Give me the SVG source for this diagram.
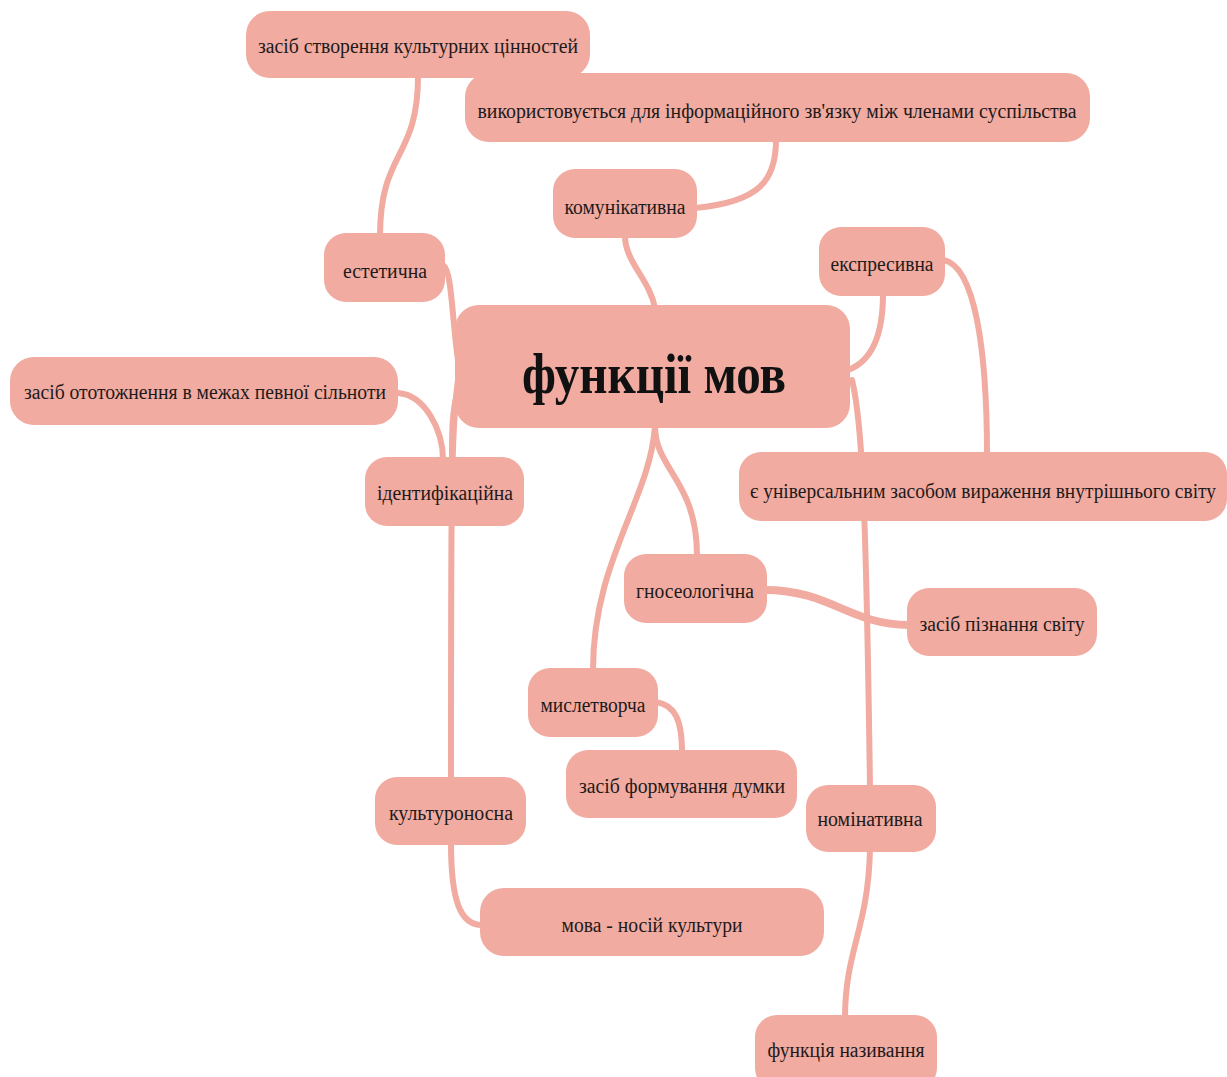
<svg xmlns="http://www.w3.org/2000/svg" width="1227" height="1077" viewBox="0 0 1227 1077">
<style>
.n{fill:#f1aba1}
.t{font-family:"Liberation Serif","Times New Roman",serif;font-size:20px;fill:#1e1a1a;text-anchor:middle}
.c{fill:none;stroke:#f1aba1;stroke-width:6;stroke-linecap:round}
</style>
<rect width="1227" height="1077" fill="#ffffff"/>
<g id="connectors">
<path class="c" d="M655,308 C650,280 625,262 625,236"/>
<path class="c" d="M695,208 C760,202 776,180 776,140"/>
<path class="c" d="M380,236 C380,150 418,160 418,76"/>
<path class="c" d="M458,360 C452,320 452,270 443,265"/>
<path class="c" d="M458,390 C452,410 452,430 452,460"/>
<path class="c" d="M458,380 C451,430 451,500 451,780"/>
<path class="c" d="M398,393 C425,395 443,430 443,460"/>
<path class="c" d="M848,370 C875,360 883,330 883,294"/>
<path class="c" d="M943,260 C975,265 987,350 987,455"/>
<path class="c" d="M852,380 C862,420 866,500 870,788"/>
<path class="c" d="M870,850 C868,930 845,950 845,1018"/>
<path class="c" d="M655,426 C655,470 697,480 697,556"/>
<path class="c" d="M655,426 C650,500 593,560 593,670"/>
<path class="c" d="M765,590 C830,590 850,625 909,625" style="stroke-width:8"/>
<path class="c" d="M656,702 C675,705 682,720 682,752"/>
<path class="c" d="M451,843 C451,900 460,925 482,925"/>
</g>
<g id="center">
<rect class="n" x="455" y="305" width="395" height="123" rx="24"/>
<text x="654" y="393" style="font-family:'Liberation Serif','Times New Roman',serif;font-weight:bold;font-size:58px;fill:#111;text-anchor:middle" textLength="264" lengthAdjust="spacingAndGlyphs">функції мов</text>
</g>
<g id="n-cultural-values">
<rect class="n" x="246" y="11" width="344" height="67" rx="24"/>
<text class="t" x="418" y="53" textLength="320" lengthAdjust="spacingAndGlyphs">засіб створення культурних цінностей</text>
</g>
<g id="n-info">
<rect class="n" x="465" y="73" width="625" height="69" rx="24"/>
<text class="t" x="777" y="118" textLength="599" lengthAdjust="spacingAndGlyphs">використовується для інформаційного зв'язку між членами суспільства</text>
</g>
<g id="n-communicative">
<rect class="n" x="553" y="169" width="144" height="69" rx="22"/>
<text class="t" x="625" y="214" textLength="121" lengthAdjust="spacingAndGlyphs">комунікативна</text>
</g>
<g id="n-aesthetic">
<rect class="n" x="324" y="233" width="121" height="69" rx="22"/>
<text class="t" x="385" y="278" textLength="84" lengthAdjust="spacingAndGlyphs">естетична</text>
</g>
<g id="n-expressive">
<rect class="n" x="819" y="227" width="126" height="69" rx="22"/>
<text class="t" x="882" y="271" textLength="103" lengthAdjust="spacingAndGlyphs">експресивна</text>
</g>
<g id="n-identity-means">
<rect class="n" x="10" y="357" width="388" height="68" rx="24"/>
<text class="t" x="205" y="399" textLength="362" lengthAdjust="spacingAndGlyphs">засіб ототожнення в межах певної сільноти</text>
</g>
<g id="n-identification">
<rect class="n" x="365" y="457" width="159" height="69" rx="22"/>
<text class="t" x="445" y="500" textLength="136" lengthAdjust="spacingAndGlyphs">ідентифікаційна</text>
</g>
<g id="n-universal">
<rect class="n" x="739" y="452" width="488" height="69" rx="22"/>
<text class="t" x="983" y="498" textLength="466" lengthAdjust="spacingAndGlyphs">є універсальним засобом вираження внутрішнього світу</text>
</g>
<g id="n-gnoseological">
<rect class="n" x="624" y="554" width="143" height="69" rx="22"/>
<text class="t" x="695" y="598" textLength="118" lengthAdjust="spacingAndGlyphs">гносеологічна</text>
</g>
<g id="n-cognition">
<rect class="n" x="907" y="588" width="190" height="68" rx="22"/>
<text class="t" x="1002" y="631" textLength="165" lengthAdjust="spacingAndGlyphs">засіб пізнання світу</text>
</g>
<g id="n-thought-forming">
<rect class="n" x="528" y="668" width="130" height="69" rx="22"/>
<text class="t" x="593" y="712" textLength="105" lengthAdjust="spacingAndGlyphs">мислетворча</text>
</g>
<g id="n-thought-means">
<rect class="n" x="566" y="750" width="231" height="68" rx="22"/>
<text class="t" x="682" y="793" textLength="206" lengthAdjust="spacingAndGlyphs">засіб формування думки</text>
</g>
<g id="n-culture-bearing">
<rect class="n" x="375" y="777" width="151" height="68" rx="22"/>
<text class="t" x="451" y="820" textLength="124" lengthAdjust="spacingAndGlyphs">культуроносна</text>
</g>
<g id="n-nominative">
<rect class="n" x="806" y="785" width="130" height="67" rx="22"/>
<text class="t" x="870" y="826" textLength="105" lengthAdjust="spacingAndGlyphs">номінативна</text>
</g>
<g id="n-culture-carrier">
<rect class="n" x="480" y="888" width="344" height="68" rx="24"/>
<text class="t" x="652" y="932" textLength="181" lengthAdjust="spacingAndGlyphs">мова - носій культури</text>
</g>
<g id="n-naming">
<rect class="n" x="755" y="1015" width="182" height="75" rx="22"/>
<text class="t" x="846" y="1057" textLength="157" lengthAdjust="spacingAndGlyphs">функція називання</text>
</g>
</svg>
